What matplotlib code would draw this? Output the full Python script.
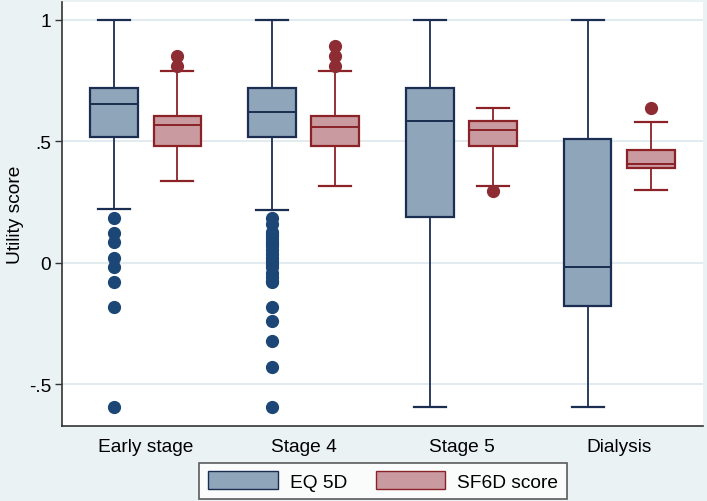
import matplotlib.pyplot as plt
from matplotlib.patches import Patch

plt.rcParams['font.family'] = ['Liberation Sans', 'DejaVu Sans']

categories = ['Early stage', 'Stage 4', 'Stage 5', 'Dialysis']

# EQ 5D box stats per stage: lower whisker, Q1, median, Q3, upper whisker
eq_whislo = [0.222, 0.22, -0.594, -0.594]
eq_q1 = [0.517, 0.517, 0.188, -0.178]
eq_med = [0.655, 0.62, 0.583, -0.015]
eq_q3 = [0.72, 0.72, 0.72, 0.512]
eq_whishi = [1.0, 1.0, 1.0, 1.0]
eq_fliers = [
    [0.185, 0.123, 0.088, 0.02, -0.016, -0.077, -0.18, -0.594],
    [0.185, 0.159, 0.127, 0.12, 0.11, 0.1, 0.088, 0.08, 0.069, 0.055, 0.036,
     0.02, 0.01, -0.003, -0.016, -0.04, -0.056, -0.073, -0.078, -0.182,
     -0.24, -0.32, -0.43, -0.594],
    [],
    [],
]

# SF6D score box stats
sf_whislo = [0.339, 0.318, 0.318, 0.3]
sf_q1 = [0.483, 0.483, 0.483, 0.391]
sf_med = [0.568, 0.561, 0.549, 0.409]
sf_q3 = [0.606, 0.605, 0.586, 0.465]
sf_whishi = [0.79, 0.79, 0.639, 0.579]
sf_fliers = [
    [0.853, 0.81],
    [0.894, 0.853, 0.81],
    [0.297],
    [0.639],
]

eq_fill, eq_edge, eq_dot = '#8fa5ba', '#1b2d50', '#1c4675'
sf_fill, sf_edge, sf_dot = '#c99a9f', '#8a2228', '#8e2c33'
bg = '#eaf2f3'
fs = 13.8


def make_stats(lo, q1, med, q3, hi, fl):
    return [dict(whislo=lo[i], q1=q1[i], med=med[i], q3=q3[i], whishi=hi[i],
                 fliers=fl[i]) for i in range(len(lo))]


fig = plt.figure(figsize=(7.07, 5.02), dpi=100, facecolor=bg)
ax = fig.add_axes([62 / 707, 75 / 502, 641 / 707, 424 / 502])
ax.set_facecolor('white')

pos = list(range(1, len(categories) + 1))
groups = [
    (make_stats(eq_whislo, eq_q1, eq_med, eq_q3, eq_whishi, eq_fliers), -0.2,
     eq_fill, eq_edge, eq_dot),
    (make_stats(sf_whislo, sf_q1, sf_med, sf_q3, sf_whishi, sf_fliers), 0.2,
     sf_fill, sf_edge, sf_dot),
]
for stats, off, fill, edge, dot in groups:
    ax.bxp(stats, positions=[p + off for p in pos], widths=0.3,
           capwidths=0.2, patch_artist=True, manage_ticks=False,
           boxprops=dict(facecolor=fill, edgecolor=edge, linewidth=1.6),
           medianprops=dict(color=edge, linewidth=1.4),
           whiskerprops=dict(color=edge, linewidth=1.3),
           capprops=dict(color=edge, linewidth=1.6),
           flierprops=dict(marker='o', markerfacecolor=dot,
                           markeredgecolor=dot, markersize=8.5),
           zorder=3)

ax.set_xlim(0.47, 4.53)
ax.set_ylim(-0.671, 1.074)
ax.set_xticks(pos)
ax.set_xticklabels(categories, fontsize=fs)
ax.tick_params(axis='x', length=0, pad=9)
ax.set_yticks([1, 0.5, 0, -0.5])
ax.set_yticklabels(['1', '.5', '0', '-.5'], fontsize=fs)
ax.tick_params(axis='y', length=5, width=1, color='#333333', pad=3)
ax.grid(axis='y', color='#dde8ec', linewidth=1.2, zorder=0)
ax.set_axisbelow(True)
ax.set_ylabel('Utility score', fontsize=fs, labelpad=3)

for s in ['top', 'right']:
    ax.spines[s].set_visible(False)
for s in ['left', 'bottom']:
    ax.spines[s].set_color('#333333')
    ax.spines[s].set_linewidth(1.2)

handles = [Patch(facecolor=eq_fill, edgecolor=eq_edge, label='EQ 5D'),
           Patch(facecolor=sf_fill, edgecolor=sf_edge, label='SF6D score')]
leg = fig.legend(handles=handles, loc='center', bbox_to_anchor=(383 / 707, 20 / 502),
                 ncol=2, fontsize=fs, frameon=True, fancybox=False,
                 handlelength=3.65, handleheight=1.0, handletextpad=0.62,
                 columnspacing=1.5, borderpad=0.45)
leg.get_frame().set_edgecolor('#333333')
leg.get_frame().set_linewidth(1.2)

fig.savefig('out.png', dpi=100, facecolor=bg)
